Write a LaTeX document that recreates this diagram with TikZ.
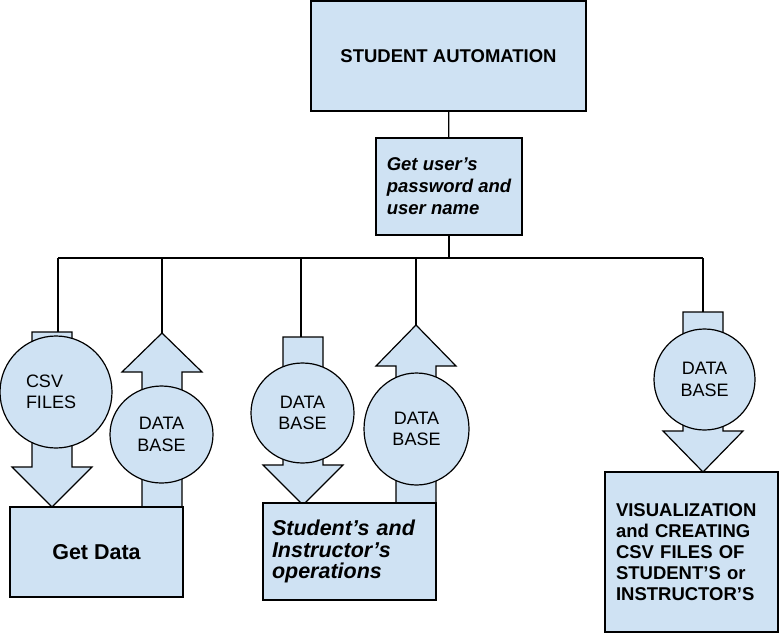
\documentclass[tikz,border=0pt]{standalone}
\usepackage{fontspec}
\setmainfont{Liberation Sans}
\usetikzlibrary{shapes.geometric}
\definecolor{boxblue}{HTML}{CFE2F3}
\tikzset{
  box/.style={draw, fill=boxblue, inner sep=0pt},
  dbnode/.style={ellipse, draw, fill=boxblue, inner sep=0pt, align=center, font=\fontsize{18}{21.5}\selectfont},
  blockarrow/.style={draw, fill=boxblue, line join=miter},
}
\begin{document}
\begin{tikzpicture}[x=1pt, y=-1pt, line width=1.2pt]
	\useasboundingbox (0,0) rectangle (783,637);
	\coordinate (bus)   at (0,258);
	\coordinate (csvin) at (58,332);
	\coordinate (db1in) at (162,333);
	\coordinate (db2in) at (301,337);
	\coordinate (db3in) at (416,325);
	\coordinate (db4in) at (703,312);
	\draw[blockarrow] (32,332)  -- ++(40,0) -- ++(0,135) -- ++(20,0) -- ++(-40,40) -- ++(-40,-40) -- ++(20,0) -- cycle;
	\draw[blockarrow] (db1in)   -- ++(40,39) -- ++(-20,0) -- ++(0,135) -- ++(-40,0) -- ++(0,-135) -- ++(-20,0) -- cycle;
	\draw[blockarrow] (283,337) -- ++(40,0) -- ++(0,128) -- ++(20,0) -- ++(-40,40) -- ++(-40,-40) -- ++(20,0) -- cycle;
	\draw[blockarrow] (db3in)   -- ++(40,41) -- ++(-20,0) -- ++(0,137) -- ++(-40,0) -- ++(0,-137) -- ++(-20,0) -- cycle;
	\draw[blockarrow] (683,312) -- ++(40,0) -- ++(0,119) -- ++(20,0) -- ++(-40,41) -- ++(-40,-41) -- ++(20,0) -- cycle;
	\node[dbnode, minimum width=112pt, minimum height=112pt, text width=60pt, align=left] (csv) at (56,392) {CSV\\FILES};
	\node[dbnode, minimum width=103pt, minimum height=97pt]  (db1) at (161.5,434.5) {DATA\\BASE};
	\node[dbnode, minimum width=103pt, minimum height=100pt] (db2) at (302.5,413)   {DATA\\BASE};
	\node[dbnode, minimum width=105pt, minimum height=112pt] (db3) at (416.5,429)   {DATA\\BASE};
	\node[dbnode, minimum width=101pt, minimum height=101pt] (db4) at (704.5,379.5) {DATA\\BASE};
	\node[box, minimum width=275pt, minimum height=110pt, font=\fontsize{18.5}{22}\selectfont\bfseries] (auto) at (448.5,56) {STUDENT AUTOMATION};
	\node[box, minimum width=146pt, minimum height=97pt, align=left, font=\fontsize{18.5}{22}\selectfont\bfseries\itshape] (login) at (449,186.5) {Get user’s\\password and\\user name};
	\node[box, minimum width=173pt, minimum height=90pt, font=\fontsize{21.5}{21.5}\selectfont\bfseries] (getdata) at (96.5,552) {Get Data};
	\node[box, minimum width=173pt, minimum height=97pt, text width=155pt, align=left, font=\fontsize{21.5}{21.5}\selectfont\bfseries\itshape] (ops) at (349.5,551.5) {Student’s and\\Instructor’s\\operations};
	\node[box, minimum width=173pt, minimum height=160pt, text width=151pt, align=left, font=\fontsize{18.5}{21}\selectfont\bfseries] (vis) at (691.5,552) {VISUALIZATION\\and CREATING\\CSV FILES OF\\STUDENT’S or\\INSTRUCTOR’S};
	\draw (auto) -- (login);
	\draw (login) -- (login |- bus);
	\draw (csvin |- bus) -- (db4in |- bus);
	\foreach \n in {csvin, db1in, db2in, db3in, db4in}
		\draw (\n |- bus) -- (\n);
\end{tikzpicture}
\end{document}
